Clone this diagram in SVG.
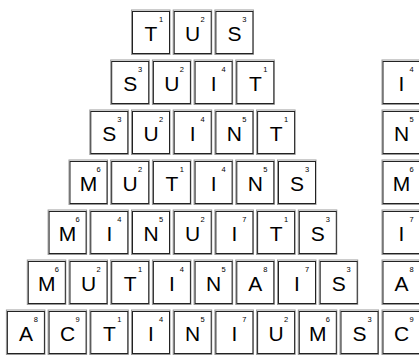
<svg xmlns="http://www.w3.org/2000/svg" width="419" height="356" viewBox="0 0 419 356">
<defs>
<style>
.l{font-family:"Liberation Sans",Arial,sans-serif;font-size:21px;fill:#000;text-anchor:middle}
.n{font-family:"Liberation Sans",Arial,sans-serif;font-size:7.5px;fill:#000;text-anchor:middle}
</style>
<g id="tile"><rect x="-0.5" y="-1" width="38.5" height="44.5" fill="none" stroke="#999" stroke-width="1"/><rect x="0.5" y="0.5" width="37" height="42" fill="#fff" stroke="#222" stroke-width="1"/></g>
</defs>
<rect width="419" height="356" fill="#fff"/>
<g id="row1">
<g id="r1c1" transform="translate(132,11)"><use href="#tile"/><text class="l" x="19" y="30">T</text><text class="n" x="29" y="11">1</text></g>
<g id="r1c2" transform="translate(173.7,11)"><use href="#tile"/><text class="l" x="19" y="30">U</text><text class="n" x="29" y="11">2</text></g>
<g id="r1c3" transform="translate(215.4,11)"><use href="#tile"/><text class="l" x="19" y="30">S</text><text class="n" x="29" y="11">3</text></g>
</g>
<g id="row2">
<g id="r2c1" transform="translate(111.2,61)"><use href="#tile"/><text class="l" x="19" y="30">S</text><text class="n" x="29" y="11">3</text></g>
<g id="r2c2" transform="translate(152.9,61)"><use href="#tile"/><text class="l" x="19" y="30">U</text><text class="n" x="29" y="11">2</text></g>
<g id="r2c3" transform="translate(194.6,61)"><use href="#tile"/><text class="l" x="19" y="30">I</text><text class="n" x="29" y="11">4</text></g>
<g id="r2c4" transform="translate(236.3,61)"><use href="#tile"/><text class="l" x="19" y="30">T</text><text class="n" x="29" y="11">1</text></g>
</g>
<g id="row3">
<g id="r3c1" transform="translate(90.3,111)"><use href="#tile"/><text class="l" x="19" y="30">S</text><text class="n" x="29" y="11">3</text></g>
<g id="r3c2" transform="translate(132,111)"><use href="#tile"/><text class="l" x="19" y="30">U</text><text class="n" x="29" y="11">2</text></g>
<g id="r3c3" transform="translate(173.7,111)"><use href="#tile"/><text class="l" x="19" y="30">I</text><text class="n" x="29" y="11">4</text></g>
<g id="r3c4" transform="translate(215.4,111)"><use href="#tile"/><text class="l" x="19" y="30">N</text><text class="n" x="29" y="11">5</text></g>
<g id="r3c5" transform="translate(257.1,111)"><use href="#tile"/><text class="l" x="19" y="30">T</text><text class="n" x="29" y="11">1</text></g>
</g>
<g id="row4">
<g id="r4c1" transform="translate(69.5,161)"><use href="#tile"/><text class="l" x="19" y="30">M</text><text class="n" x="29" y="11">6</text></g>
<g id="r4c2" transform="translate(111.2,161)"><use href="#tile"/><text class="l" x="19" y="30">U</text><text class="n" x="29" y="11">2</text></g>
<g id="r4c3" transform="translate(152.9,161)"><use href="#tile"/><text class="l" x="19" y="30">T</text><text class="n" x="29" y="11">1</text></g>
<g id="r4c4" transform="translate(194.6,161)"><use href="#tile"/><text class="l" x="19" y="30">I</text><text class="n" x="29" y="11">4</text></g>
<g id="r4c5" transform="translate(236.3,161)"><use href="#tile"/><text class="l" x="19" y="30">N</text><text class="n" x="29" y="11">5</text></g>
<g id="r4c6" transform="translate(278,161)"><use href="#tile"/><text class="l" x="19" y="30">S</text><text class="n" x="29" y="11">3</text></g>
</g>
<g id="row5">
<g id="r5c1" transform="translate(48.6,211)"><use href="#tile"/><text class="l" x="19" y="30">M</text><text class="n" x="29" y="11">6</text></g>
<g id="r5c2" transform="translate(90.3,211)"><use href="#tile"/><text class="l" x="19" y="30">I</text><text class="n" x="29" y="11">4</text></g>
<g id="r5c3" transform="translate(132,211)"><use href="#tile"/><text class="l" x="19" y="30">N</text><text class="n" x="29" y="11">5</text></g>
<g id="r5c4" transform="translate(173.7,211)"><use href="#tile"/><text class="l" x="19" y="30">U</text><text class="n" x="29" y="11">2</text></g>
<g id="r5c5" transform="translate(215.4,211)"><use href="#tile"/><text class="l" x="19" y="30">I</text><text class="n" x="29" y="11">7</text></g>
<g id="r5c6" transform="translate(257.1,211)"><use href="#tile"/><text class="l" x="19" y="30">T</text><text class="n" x="29" y="11">1</text></g>
<g id="r5c7" transform="translate(298.8,211)"><use href="#tile"/><text class="l" x="19" y="30">S</text><text class="n" x="29" y="11">3</text></g>
</g>
<g id="row6">
<g id="r6c1" transform="translate(27.8,261)"><use href="#tile"/><text class="l" x="19" y="30">M</text><text class="n" x="29" y="11">6</text></g>
<g id="r6c2" transform="translate(69.5,261)"><use href="#tile"/><text class="l" x="19" y="30">U</text><text class="n" x="29" y="11">2</text></g>
<g id="r6c3" transform="translate(111.2,261)"><use href="#tile"/><text class="l" x="19" y="30">T</text><text class="n" x="29" y="11">1</text></g>
<g id="r6c4" transform="translate(152.9,261)"><use href="#tile"/><text class="l" x="19" y="30">I</text><text class="n" x="29" y="11">4</text></g>
<g id="r6c5" transform="translate(194.6,261)"><use href="#tile"/><text class="l" x="19" y="30">N</text><text class="n" x="29" y="11">5</text></g>
<g id="r6c6" transform="translate(236.3,261)"><use href="#tile"/><text class="l" x="19" y="30">A</text><text class="n" x="29" y="11">8</text></g>
<g id="r6c7" transform="translate(278,261)"><use href="#tile"/><text class="l" x="19" y="30">I</text><text class="n" x="29" y="11">7</text></g>
<g id="r6c8" transform="translate(319.7,261)"><use href="#tile"/><text class="l" x="19" y="30">S</text><text class="n" x="29" y="11">3</text></g>
</g>
<g id="row7">
<g id="r7c1" transform="translate(6.9,311)"><use href="#tile"/><text class="l" x="19" y="30">A</text><text class="n" x="29" y="11">8</text></g>
<g id="r7c2" transform="translate(48.6,311)"><use href="#tile"/><text class="l" x="19" y="30">C</text><text class="n" x="29" y="11">9</text></g>
<g id="r7c3" transform="translate(90.3,311)"><use href="#tile"/><text class="l" x="19" y="30">T</text><text class="n" x="29" y="11">1</text></g>
<g id="r7c4" transform="translate(132,311)"><use href="#tile"/><text class="l" x="19" y="30">I</text><text class="n" x="29" y="11">4</text></g>
<g id="r7c5" transform="translate(173.7,311)"><use href="#tile"/><text class="l" x="19" y="30">N</text><text class="n" x="29" y="11">5</text></g>
<g id="r7c6" transform="translate(215.4,311)"><use href="#tile"/><text class="l" x="19" y="30">I</text><text class="n" x="29" y="11">7</text></g>
<g id="r7c7" transform="translate(257.1,311)"><use href="#tile"/><text class="l" x="19" y="30">U</text><text class="n" x="29" y="11">2</text></g>
<g id="r7c8" transform="translate(298.8,311)"><use href="#tile"/><text class="l" x="19" y="30">M</text><text class="n" x="29" y="11">6</text></g>
<g id="r7c9" transform="translate(340.5,311)"><use href="#tile"/><text class="l" x="19" y="30">S</text><text class="n" x="29" y="11">3</text></g>
</g>
<g id="column">
<g id="k1" transform="translate(382.5,61)"><use href="#tile"/><text class="l" x="19" y="30">I</text><text class="n" x="29" y="11">4</text></g>
<g id="k2" transform="translate(382.5,111)"><use href="#tile"/><text class="l" x="19" y="30">N</text><text class="n" x="29" y="11">5</text></g>
<g id="k3" transform="translate(382.5,161)"><use href="#tile"/><text class="l" x="19" y="30">M</text><text class="n" x="29" y="11">6</text></g>
<g id="k4" transform="translate(382.5,211)"><use href="#tile"/><text class="l" x="19" y="30">I</text><text class="n" x="29" y="11">7</text></g>
<g id="k5" transform="translate(382.5,261)"><use href="#tile"/><text class="l" x="19" y="30">A</text><text class="n" x="29" y="11">8</text></g>
<g id="k6" transform="translate(382.5,311)"><use href="#tile"/><text class="l" x="19" y="30">C</text><text class="n" x="29" y="11">9</text></g>
</g>
<g id="connectors"/>
</svg>
